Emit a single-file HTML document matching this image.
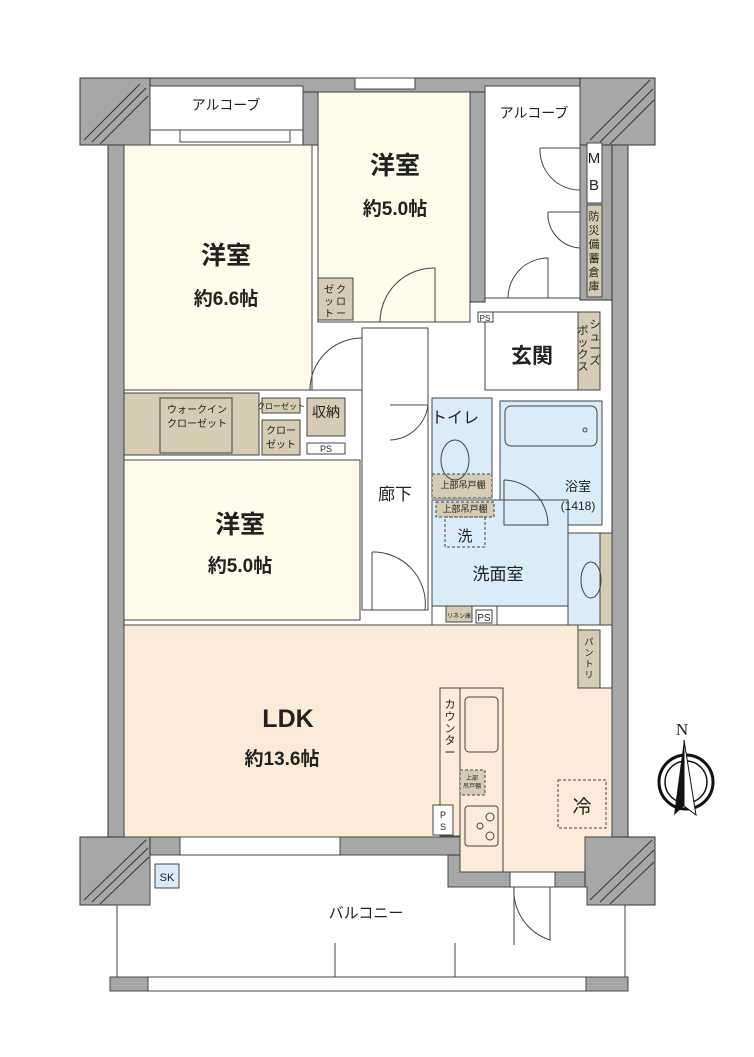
<!DOCTYPE html>
<html><head><meta charset="utf-8"><style>
html,body{margin:0;padding:0;background:#fff;}
svg{display:block;}
text{font-family:"Liberation Sans","Noto Sans CJK JP",sans-serif;fill:#222;}
</style></head><body>
<svg width="754" height="1057" viewBox="0 0 754 1057" xmlns="http://www.w3.org/2000/svg">
<g stroke="#333" stroke-width="1">
<rect x="80" y="78" width="575" height="14" fill="#a7a7a7"/>
<rect x="108" y="92" width="16" height="745" fill="#a7a7a7"/>
<rect x="612" y="92" width="16" height="745" fill="#a7a7a7"/>
<rect x="80" y="78" width="70" height="67" fill="#a7a7a7"/>
<rect x="580" y="78" width="75" height="67" fill="#a7a7a7"/>
<rect x="80" y="837" width="70" height="68" fill="#a7a7a7"/>
<rect x="585" y="837" width="70" height="68" fill="#a7a7a7"/>
<rect x="150" y="837" width="435" height="18" fill="#a7a7a7"/>
<rect x="448" y="855" width="137" height="32" fill="#a7a7a7"/>
<rect x="110" y="977" width="38" height="13" fill="#a7a7a7"/>
<rect x="528" y="977" width="42" height="13" fill="#a7a7a7"/>
<rect x="303" y="92" width="15" height="53" fill="#a7a7a7"/>
<rect x="470" y="92" width="15" height="210" fill="#a7a7a7"/>
<rect x="580" y="145" width="32" height="155" fill="#a7a7a7"/>
</g>
<g stroke="#333" stroke-width="1" fill="none">
<path d="M84,140 L140,84 M92,142 L146,88 M100,144 L148,96"/>
<path d="M590,140 L650,80 M600,142 L653,89 M610,144 L654,100"/>
<path d="M84,900 L146,840 M92,902 L148,848 M100,904 L149,857"/>
<path d="M590,900 L652,840 M600,902 L654,850 M610,904 L654,862"/>
</g>
<g stroke="#444" stroke-width="1">
<rect x="150" y="86" width="153" height="44" fill="#fff"/>
<rect x="485" y="86" width="95" height="212" fill="#fff"/>
<rect x="587" y="143" width="15" height="60" fill="#fff"/>
<rect x="587" y="205" width="15" height="92" fill="#d6cbb3"/>
<rect x="124" y="145" width="188" height="245" fill="#fffbea"/>
<rect x="318" y="92" width="152" height="230" fill="#fffbea"/>
<rect x="124" y="393" width="135" height="62" fill="#d6cbb3"/>
<rect x="160" y="398" width="72" height="55" fill="#d6cbb3"/>
<rect x="262" y="398" width="38" height="15" fill="#d6cbb3"/>
<rect x="262" y="420" width="38" height="35" fill="#d6cbb3"/>
<rect x="307" y="398" width="38" height="38" fill="#d6cbb3"/>
<rect x="307" y="443" width="38" height="11" fill="#fff"/>
<rect x="318" y="278" width="35" height="42" fill="#d6cbb3"/>
<rect x="124" y="460" width="236" height="160" fill="#fffbea"/>
<rect x="362" y="328" width="66" height="282" fill="#fff"/>
<rect x="485" y="312" width="93" height="78" fill="#fff"/>
<rect x="578" y="312" width="22" height="78" fill="#d6cbb3"/>
<rect x="478" y="312" width="15" height="10" fill="#fff"/>
<rect x="432" y="398" width="60" height="100" fill="#d9ecf7"/>
<rect x="432" y="474" width="60" height="24" fill="#d6cbb3" stroke-dasharray="3,2"/>
<rect x="500" y="401" width="102" height="124" fill="#d9ecf7"/>
<rect x="505" y="406" width="92" height="40" rx="6" fill="#d9ecf7"/>
<rect x="432" y="500" width="136" height="106" fill="#d9ecf7"/>
<rect x="436" y="502" width="58" height="15" fill="#d6cbb3" stroke-dasharray="3,2"/>
<rect x="445" y="517" width="40" height="30" fill="none" stroke-dasharray="3,2"/>
<rect x="568" y="533" width="32" height="92" fill="#d9ecf7"/>
<rect x="600" y="533" width="12" height="92" fill="#d6cbb3"/>
<rect x="432" y="606" width="65" height="22" fill="#fff"/>
<rect x="446" y="606" width="26" height="16" fill="#d6cbb3"/>
<rect x="476" y="610" width="16" height="13" fill="#fff"/>
<ellipse cx="455" cy="460" rx="14" ry="20" fill="none"/>
<ellipse cx="591" cy="580" rx="10" ry="18" fill="none"/>
<circle cx="585" cy="430" r="2" fill="none"/>
<path d="M124,625 L578,625 L578,688 L612,688 L612,837 L585,837 L585,872 L460,872 L460,837 L124,837 Z" fill="#fcebd8"/>
<rect x="578" y="630" width="22" height="58" fill="#d6cbb3"/>
<rect x="440" y="688" width="63" height="148" fill="#fcebd8"/>
<rect x="460" y="688" width="43" height="184" fill="#fcebd8"/>
<rect x="465" y="697" width="33" height="55" rx="4" fill="none"/>
<rect x="460" y="770" width="25" height="25" fill="#d6cbb3" stroke-dasharray="3,2"/>
<rect x="465" y="806" width="33" height="40" rx="3" fill="none"/>
<circle cx="490" cy="817" r="4" fill="none"/><circle cx="480" cy="826" r="3" fill="none"/><circle cx="490" cy="836" r="4" fill="none"/>
<rect x="433" y="805" width="20" height="30" fill="#fff"/>
<rect x="558" y="780" width="48" height="48" fill="none" stroke-dasharray="3,2"/>
<path d="M150,855 L448,855 L448,887 L587,887 L587,905 L625,905 L625,977 L117,977 L117,905 L150,905 Z" fill="#fff"/>
<rect x="148" y="977" width="438" height="14" fill="#fff"/>
<rect x="110" y="977" width="38" height="14" fill="#a7a7a7"/>
<rect x="586" y="977" width="42" height="14" fill="#a7a7a7"/>
<rect x="155" y="864" width="24" height="24" fill="#d9ecf7"/>
<line x1="335" y1="943" x2="335" y2="977"/><line x1="455" y1="943" x2="455" y2="977"/>
<rect x="180" y="130" width="110" height="12" fill="#fff"/>
<rect x="355" y="78" width="60" height="11" fill="#fff"/>
<rect x="180" y="837" width="160" height="18" fill="#fff"/>
<rect x="510" y="872" width="45" height="15" fill="#fff"/>
<path d="M380,322 L435,322 L435,268 A54,54 0 0 0 380,322" fill="none"/>
<path d="M310,390 L362,390 L362,338 A52,52 0 0 0 310,390" fill="none"/>
<path d="M372,552 L372,610 L425,610 A52,52 0 0 0 372,552" fill="none"/>
<path d="M390,405 L428,405 A40,40 0 0 1 390,440" fill="none"/>
<path d="M504,480 L504,525 L548,525 A45,45 0 0 0 504,480" fill="none"/>
<path d="M540,148 L580,148 L580,190 A40,40 0 0 1 540,148" fill="none"/>
<path d="M548,212 L580,212 L580,248 A34,34 0 0 1 548,212" fill="none"/>
<path d="M508,298 A40,40 0 0 1 548,258 L548,298" fill="none"/>
<path d="M514,887 L514,945 M514,887 A52,52 0 0 0 550,940 L550,887" fill="none"/>
</g>
<g font-weight="bold">
<text x="395" y="174" font-size="25" text-anchor="middle">洋室</text>
<text x="395" y="215" font-size="19" text-anchor="middle">約5.0帖</text>
<text x="226" y="264" font-size="25" text-anchor="middle">洋室</text>
<text x="226" y="305" font-size="19" text-anchor="middle">約6.6帖</text>
<text x="240" y="533" font-size="25" text-anchor="middle">洋室</text>
<text x="240" y="572" font-size="19" text-anchor="middle">約5.0帖</text>
<text x="288" y="727" font-size="25" text-anchor="middle">LDK</text>
<text x="282" y="765" font-size="19" text-anchor="middle">約13.6帖</text>
<text x="532" y="363" font-size="21" text-anchor="middle">玄関</text>
</g>
<text x="226" y="110" font-size="14" text-anchor="middle">アルコーブ</text>
<text x="534" y="118" font-size="14" text-anchor="middle">アルコーブ</text>
<text x="395" y="500" font-size="17" text-anchor="middle">廊下</text>
<text x="498" y="580" font-size="17" text-anchor="middle">洗面室</text>
<text x="465" y="541" font-size="15" text-anchor="middle">洗</text>
<text x="455" y="423" font-size="16" text-anchor="middle">トイレ</text>
<text x="578" y="491" font-size="13" text-anchor="middle">浴室</text>
<text x="578" y="510" font-size="12" text-anchor="middle">(1418)</text>
<text x="582" y="813" font-size="19" text-anchor="middle">冷</text>
<text x="326" y="417" font-size="14" text-anchor="middle">収納</text>
<text x="197" y="413" font-size="10" text-anchor="middle">ウォークイン</text>
<text x="197" y="427" font-size="10" text-anchor="middle">クローゼット</text>
<text x="281" y="409" font-size="8" text-anchor="middle">クローゼット</text>
<text x="281" y="434" font-size="10" text-anchor="middle">クロー</text>
<text x="281" y="448" font-size="10" text-anchor="middle">ゼット</text>
<text x="326" y="452" font-size="9" text-anchor="middle">PS</text>
<text x="485" y="321" font-size="8" text-anchor="middle">PS</text>
<text x="484" y="621" font-size="10" text-anchor="middle">PS</text>
<text x="459" y="618" font-size="6" text-anchor="middle">リネン庫</text>
<text x="463" y="488" font-size="9" text-anchor="middle">上部吊戸棚</text>
<text x="465" y="512" font-size="9" text-anchor="middle">上部吊戸棚</text>
<text x="167" y="881" font-size="11" text-anchor="middle">SK</text>
<text x="366" y="918" font-size="15" text-anchor="middle">バルコニー</text>
<text x="443" y="818" font-size="9" text-anchor="middle">P</text>
<text x="443" y="830" font-size="9" text-anchor="middle">S</text>
<text x="472" y="780" font-size="6" text-anchor="middle">上部</text>
<text x="472" y="788" font-size="6" text-anchor="middle">吊戸棚</text>
<g font-size="11" text-anchor="middle">
<text x="450" y="708">カ</text><text x="450" y="720">ウ</text><text x="450" y="732">ン</text><text x="450" y="744">タ</text><text x="450" y="756">ー</text>
<text x="594" y="163" font-size="15">M</text><text x="594" y="190" font-size="15">B</text>
<text x="594" y="220">防</text><text x="594" y="234">災</text><text x="594" y="248">備</text><text x="594" y="262">蓄</text><text x="594" y="276">倉</text><text x="594" y="290">庫</text>
<text x="595" y="328">シ</text><text x="595" y="340">ュ</text><text x="595" y="352">ー</text><text x="595" y="364">ズ</text>
<text x="583" y="334">ボ</text><text x="583" y="346">ッ</text><text x="583" y="358">ク</text><text x="583" y="370">ス</text>
<text x="341" y="293" font-size="10">ク</text><text x="341" y="305" font-size="10">ロ</text><text x="341" y="317" font-size="10">ー</text>
<text x="329" y="293" font-size="10">ゼ</text><text x="329" y="305" font-size="10">ッ</text><text x="329" y="317" font-size="10">ト</text>
<text x="589" y="645" font-size="9">パ</text><text x="589" y="656" font-size="9">ン</text><text x="589" y="667" font-size="9">ト</text><text x="589" y="678" font-size="9">リ</text>
</g>
<text x="682" y="735" font-size="17" text-anchor="middle" style="font-family:'Liberation Serif',serif">N</text>
<circle cx="686" cy="782" r="27" fill="none" stroke="#111" stroke-width="3"/>
<circle cx="686" cy="782" r="21" fill="none" stroke="#111" stroke-width="1.5"/>
<path d="M684,740 L674,815 L684,806 Z" fill="#111"/>
<path d="M684,740 L696,815 L684,806 Z" fill="#fff" stroke="#111"/>
</svg>
</body></html>
